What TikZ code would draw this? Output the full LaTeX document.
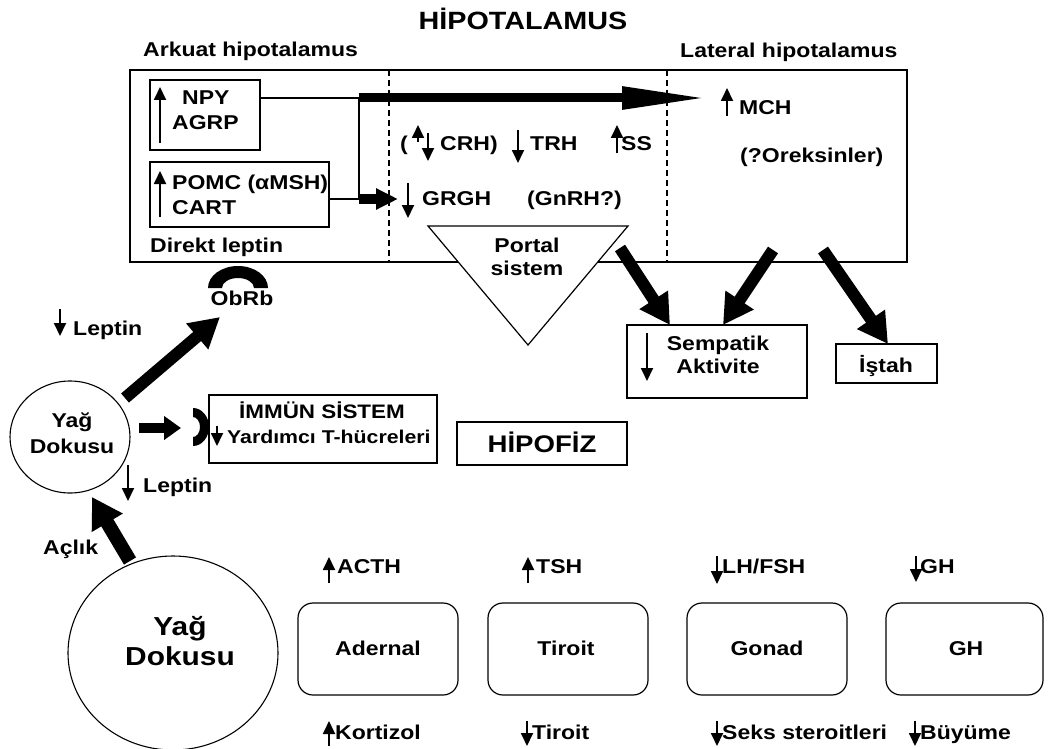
\documentclass[tikz,border=0pt]{standalone}
\usepackage{fontspec}
\setmainfont{Liberation Sans}[FakeStretch=1.15]
\usetikzlibrary{arrows.meta,shapes.geometric}
\newcommand\fsz[1]{\fontsize{#1}{#1}\selectfont\bfseries}
\tikzset{
  box/.style={draw, line width=1.2pt, inner sep=0pt, outer sep=0pt, anchor=north west},
  rbox/.style={box, rounded corners=15pt},
  lbl/.style={inner sep=0pt, anchor=base west, font=\fsz{20}},
  clbl/.style={lbl, anchor=base},
  sym/.style={line width=1.8pt, -{Triangle[length=13pt,width=12pt]}},
  fat/.style={line width=12pt, -{Triangle[length=30pt,width=32pt]}},
  thinlink/.style={line width=1.3pt},
  divider/.style={line width=1.1pt, dash pattern=on 6pt off 4pt}
}
\begin{document}
\begin{tikzpicture}[x=1pt, y=-1pt]
\useasboundingbox (0,0) rectangle (1049,749);

% --- hypothalamus frame and its three zones
\node[clbl, font=\fsz{25}] (title) at (523,30) {HİPOTALAMUS};
\node[lbl] (arkuat) at (143,57) {Arkuat hipotalamus};
\node[lbl] (lateral) at (680,58) {Lateral hipotalamus};
\node[box, minimum width=777pt, minimum height=192pt] (hypo) at (130,70) {};
\draw[divider] ([xshift=259pt]hypo.north west) -- ([xshift=259pt]hypo.south west);
\draw[divider] ([xshift=537pt]hypo.north west) -- ([xshift=537pt]hypo.south west);

% --- arcuate nucleus neurons
\node[box, minimum width=110pt, minimum height=70pt] (npybox) at (150,80) {};
\node[lbl] (npy) at (182,105) {NPY};
\node[lbl] (agrp) at (172,129) {AGRP};
\draw[sym] (160,143) -- (160,87);
\node[box, minimum width=179pt, minimum height=65pt] (pomcbox) at (150,162) {};
\node[lbl] (pomc) at (172,189) {POMC (αMSH)};
\node[lbl] (cart) at (172,214) {CART};
\draw[sym] (160,217) -- (160,171);
\node[lbl] (direkt) at (150,252) {Direkt leptin};

% --- paraventricular releasing hormones
\node[lbl] (crhopen) at (400,150) {(};
\draw[sym] (418,142) -- (418,125);
\draw[sym] (428,133) -- (428,161);
\node[lbl] (crh) at (440,150) {CRH)};
\draw[sym] (518,130) -- (518,163);
\node[lbl] (trh) at (530,150) {TRH};
\draw[sym] (617,153) -- (617,125);
\node[lbl] (ss) at (621,150) {SS};
\draw[sym] (408,183) -- (408,218);
\node[lbl] (grgh) at (422,205) {GRGH};
\node[lbl] (gnrh) at (527,205) {(GnRH?)};

% --- lateral hypothalamus
\draw[sym] (727,116) -- (727,88);
\node[lbl] (mch) at (739,114) {MCH};
\node[lbl] (oreks) at (740,162) {(?Oreksinler)};

% --- projections out of the arcuate nucleus
\coordinate (j1) at (359,98);
\coordinate (j2) at (359,199);
\coordinate (mchin) at (708,98);
\coordinate (grghin) at (398,199);
\draw[thinlink] (j1 -| npybox.east) -- (j1);
\draw[thinlink] (j2 -| pomcbox.east) -- (j2);
\draw[line width=2.6pt] (j1) -- (j2);
\draw[line width=9pt, -{Triangle[length=86pt,width=21pt]}] (j1) -- (mchin);
\draw[line width=10pt, -{Triangle[length=22pt,width=20pt]}] (j2) -- (grghin);

% --- portal system
\draw[line width=1.2pt, fill=white] (428,226) -- (628,226) -- (528,345) -- cycle;
\node[clbl] (portal) at (527,252) {Portal};
\node[clbl] (sistem) at (527,275) {sistem};

% --- sympathetic activity and appetite
\node[box, minimum width=180pt, minimum height=73pt] (symp) at (627,325) {};
\draw[sym] (647,333) -- (647,381);
\node[clbl] (sempatik) at (718,350) {Sempatik};
\node[clbl] (aktivite) at (718,373) {Aktivite};
\node[box, minimum width=101pt, minimum height=39pt] (istah) at (836,344) {};
\node[clbl] (istahtxt) at (886,372) {İştah};
\coordinate (pa1) at (620,248);
\coordinate (pa2) at (773,250);
\coordinate (pa3) at (823,250);
\draw[fat] (pa1) -- ([xshift=43pt]symp.north west);
\draw[fat] (pa2) -- ([xshift=96pt]symp.north west);
\draw[fat] (pa3) -- ([xshift=52pt]istah.north west);

% --- leptin receptor ObRb
\fill (208,288) arc[start angle=180, end angle=360, x radius=30, y radius=22]
  -- (254,288) arc[start angle=0, end angle=-180, x radius=16, y radius=10] -- cycle;
\node[clbl] (obrb) at (242,305) {ObRb};

% --- adipose tissue (small)
\node[draw, ellipse, line width=1.1pt, minimum width=120pt, minimum height=112pt, inner sep=0pt] (yag) at (70,437) {};
\node[clbl] (yag1) at (72,427) {Yağ};
\node[clbl] (yag2) at (72,453) {Dokusu};
\draw[sym] (60,309) -- (60,336);
\node[lbl] (leptin1) at (73,335) {Leptin};
\draw[sym] (128,465) -- (128,501);
\node[lbl] (leptin2) at (143,492) {Leptin};
\coordinate (ys1) at (125,398);
\coordinate (obrbin) at (220,317);
\draw[fat] (ys1) -- (obrbin);

% --- immune system
\node[box, minimum width=228pt, minimum height=68pt] (immun) at (209,395) {};
\node[clbl, font=\fsz{19.5}] (immun1) at (322,418) {İMMÜN SİSTEM};
\node[lbl, font=\fsz{18.5}] (immun2) at (227,443) {Yardımcı T-hücreleri};
\draw[sym] (217,426) -- (217,446);
\fill (193,408) arc[start angle=-90, end angle=90, x radius=16, y radius=19]
  -- (193,437) arc[start angle=90, end angle=-90, x radius=7, y radius=10] -- cycle;
\coordinate (ys2) at (139,428);
\coordinate (immin) at (181,428);
\draw[line width=10pt, -{Triangle[length=17pt,width=23pt]}] (ys2) -- (immin);

% --- pituitary
\node[box, minimum width=170pt, minimum height=43pt] (hipofiz) at (457,422) {};
\node[clbl, font=\fsz{24}] (hipofiztxt) at (542,452) {HİPOFİZ};

% --- adipose tissue (large) and fasting
\node[draw, ellipse, line width=1.1pt, minimum width=210pt, minimum height=194pt, inner sep=0pt] (yagbig) at (173,653) {};
\node[clbl, font=\fsz{26}] (yagb1) at (180,635) {Yağ};
\node[clbl, font=\fsz{26}] (yagb2) at (180,665) {Dokusu};
\node[lbl] (aclik) at (43,554) {Açlık};
\coordinate (ab) at (130,561);
\coordinate (yagin) at (92,497);
\draw[line width=14pt, -{Triangle[length=30pt,width=34pt]}] (ab) -- (yagin);

% --- peripheral endocrine axes
\node[rbox, minimum width=160pt, minimum height=92pt] (adernal) at (298,603) {};
\node[rbox, minimum width=160pt, minimum height=92pt] (tiroit) at (488,603) {};
\node[rbox, minimum width=160pt, minimum height=92pt] (gonad) at (687,603) {};
\node[rbox, minimum width=157pt, minimum height=92pt] (ghbox) at (886,603) {};
\node[clbl] (adernaltxt) at (378,655) {Adernal};
\node[clbl] (tiroittxt) at (566,655) {Tiroit};
\node[clbl] (gonadtxt) at (767,655) {Gonad};
\node[clbl] (ghtxt) at (966,655) {GH};

\draw[sym] (329,583) -- (329,557);
\node[lbl] (acth) at (337,573) {ACTH};
\draw[sym] (528,583) -- (528,557);
\node[lbl] (tsh) at (536,573) {TSH};
\draw[sym] (717,556) -- (717,584);
\node[lbl] (lhfsh) at (722,573) {LH/FSH};
\draw[sym] (916,556) -- (916,582);
\node[lbl] (gh) at (920,573) {GH};

\draw[sym] (329,746) -- (329,721);
\node[lbl] (kortizol) at (335,739) {Kortizol};
\draw[sym] (527,721) -- (527,746);
\node[lbl] (tiroitout) at (532,739) {Tiroit};
\draw[sym] (717,721) -- (717,746);
\node[lbl] (seks) at (722,739) {Seks steroitleri};
\draw[sym] (915,721) -- (915,746);
\node[lbl] (buyume) at (920,739) {Büyüme};
\end{tikzpicture}
\end{document}
